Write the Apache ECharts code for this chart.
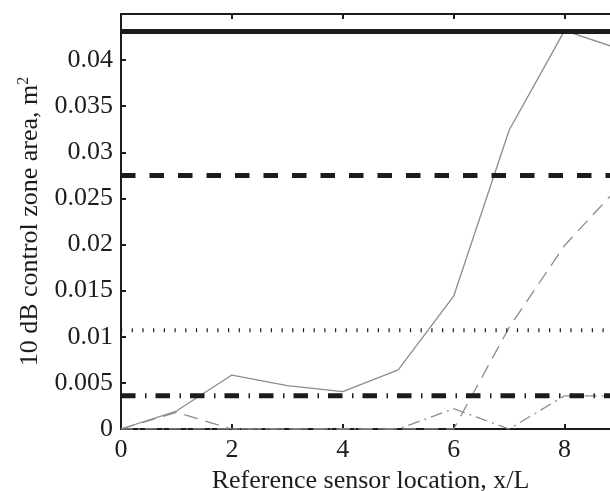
<!DOCTYPE html>
<html>
<head>
<meta charset="utf-8">
<script src="https://cdn.jsdelivr.net/npm/echarts@6/dist/echarts.min.js"></script>
<style>
  html, body { margin: 0; padding: 0; background: #fff; }
  #chart { width: 610px; height: 491px; }
</style>
</head>
<body>
<div id="chart"></div>
<script>
// sensor positions x/L
const xPos = [0, 1, 2, 3, 4, 5, 6, 7, 8, 9];
// gray curves
const graySolid = [0, 0.00195, 0.00585, 0.0047, 0.00405, 0.0064, 0.0144, 0.0324, 0.0432, 0.0412];
const grayDashed = [0, 0.0018, 0, 0, 0, 0, 0, 0.011, 0.0199, 0.0264];
const grayDashDot = [0, 0, 0, 0, 0, 0, 0.0022, 0, 0.0036, 0.0036];
// black reference levels
const levelSolid = 0.0431;
const levelDashed = 0.0275;
const levelDotted = 0.0107;
const levelDashDot = 0.0036;
const xSpan = [0, 9];
const yTicks = [0, 0.005, 0.01, 0.015, 0.02, 0.025, 0.03, 0.035, 0.04];

const font = '"Liberation Serif", "DejaVu Serif", serif';
const black = '#1c1c1c';
const gray = '#8c8c8c';

const pairs = ys => xPos.map((x, i) => [x, ys[i]]);
const flat = v => xSpan.map(x => [x, v]);

const chart = echarts.init(document.getElementById('chart'), null, { renderer: 'canvas' });

const lineSeries = (data, color, width, type, z) => ({
  type: 'line', data, symbol: 'none', silent: true, z: z || 2,
  lineStyle: { color, width, type, cap: 'butt' }
});

chart.setOption({
  animation: false,
  backgroundColor: '#fff',
  grid: { left: 121, top: 14, width: 499, height: 415, outerBoundsMode: 'none', containLabel: false },
  xAxis: [
    {
      type: 'value', min: 0, max: 9, interval: 2, position: 'bottom',
      name: 'Reference sensor location, x/L', nameLocation: 'middle', nameGap: 36,
      nameTextStyle: { fontFamily: font, fontSize: 26, color: black },
      axisLine: { show: true, lineStyle: { color: black, width: 2 } },
      axisTick: { show: true, inside: true, length: 5, lineStyle: { color: black, width: 2 } },
      axisLabel: {
        fontFamily: font, fontSize: 26, color: black, margin: 8,
        formatter: v => (v % 2 === 0 ? String(v) : '')
      },
      splitLine: { show: false }
    },
    {
      type: 'value', min: 0, max: 9, interval: 2, position: 'top',
      axisLine: { show: true, lineStyle: { color: black, width: 2 } },
      axisTick: { show: true, inside: true, length: 5, lineStyle: { color: black, width: 2 } },
      axisLabel: { show: false },
      splitLine: { show: false }
    }
  ],
  yAxis: {
    type: 'value', min: 0, max: 0.045, interval: 0.005,
    name: '10 dB control zone area, m{sup|2}', nameLocation: 'middle', nameGap: 77,
    nameTextStyle: {
      fontFamily: font, fontSize: 26, color: black,
      rich: { sup: { fontFamily: font, fontSize: 16, color: black, verticalAlign: 'top', padding: [0, 0, 12, 0] } }
    },
    axisLine: { show: true, lineStyle: { color: black, width: 2 } },
    axisTick: { show: true, inside: true, length: 5, lineStyle: { color: black, width: 2 } },
    axisLabel: {
      fontFamily: font, fontSize: 26, color: black, margin: 8,
      formatter: v => {
        const r = +v.toFixed(3);
        return yTicks.some(t => Math.abs(t - r) < 1e-9) ? String(r) : '';
      }
    },
    splitLine: { show: false }
  },
  series: [
    lineSeries(pairs(graySolid), gray, 1.3, 'solid'),
    lineSeries(pairs(grayDashed), gray, 1.3, [14, 8]),
    lineSeries(pairs(grayDashDot), gray, 1.3, [12, 5, 2, 5]),
    lineSeries(flat(levelSolid), black, 5, 'solid', 3),
    lineSeries(flat(levelDashed), black, 5, [14.5, 14], 3),
    lineSeries(flat(levelDotted), black, 4, [1.2, 9.5], 3),
    lineSeries(flat(levelDashDot), black, 5, [14.5, 9.5, 1.5, 9], 3)
  ]
});
</script>
</body>
</html>
